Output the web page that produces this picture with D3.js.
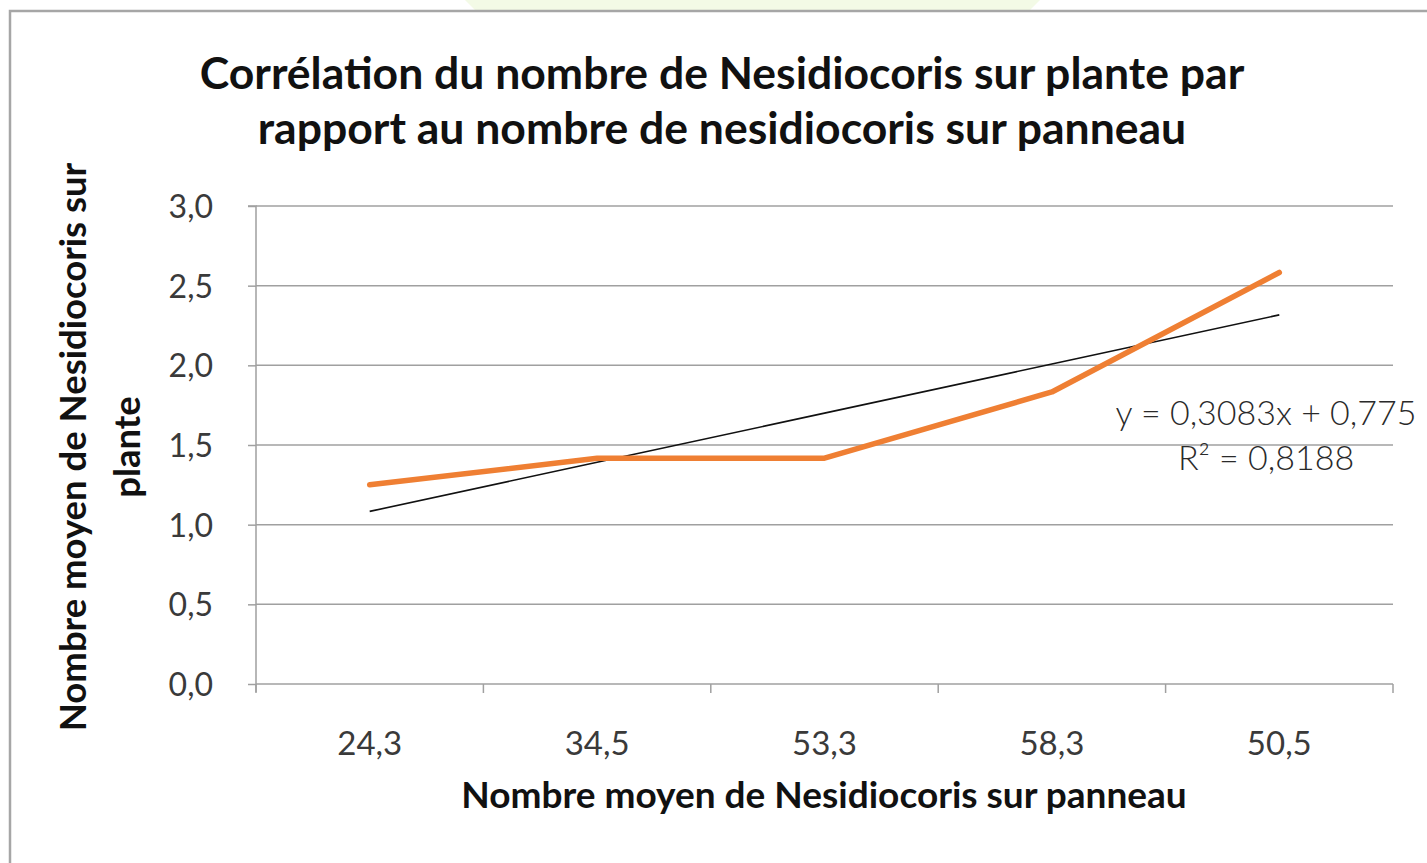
<!DOCTYPE html>
<html>
<head>
<meta charset="utf-8">
<script src="https://cdn.jsdelivr.net/npm/d3@7"></script>
<style>
  html, body { margin: 0; padding: 0; background: #fff; }
  svg { display: block; font-family: Lato, "Open Sans", sans-serif; }
</style>
</head>
<body>
<svg id="chart" width="1427" height="863"></svg>
<script>
// data
const categories = ["24,3", "34,5", "53,3", "58,3", "50,5"];
const plantValues = [1.25, 1.417, 1.417, 1.833, 2.583];
const yTicks = [0, 0.5, 1, 1.5, 2, 2.5, 3];
const trendSlope = 0.3083, trendIntercept = 0.775;
const titleLines = ["Corrélation du nombre de Nesidiocoris sur plante par", "rapport au nombre de nesidiocoris sur panneau"];
const yLabelLines = ["Nombre moyen de Nesidiocoris sur", "plante"];
const xLabel = "Nombre moyen de Nesidiocoris sur panneau";

const svg = d3.select("#chart");
const margin = { top: 206, right: 34, bottom: 179, left: 256 },
  width = 1427 - margin.left - margin.right,
  height = 863 - margin.top - margin.bottom;

// faint green shape at top and chart border
svg.append("path")
  .attr("d", "M465,0 L1040,0 L1030,10 L475,10 Z")
  .attr("fill", "#f3fae6");
svg.append("path")
  .attr("d", "M10,863 L10,11 L1427,11")
  .attr("fill", "none")
  .attr("stroke", "#a6a6a6")
  .attr("stroke-width", 2.5);

const x = d3.scaleBand().domain(categories).range([0, width]);
const y = d3.scaleLinear().domain([0, 3]).range([height, 0]);

const g = svg.append("g").attr("transform", `translate(${margin.left},${margin.top})`);

// gridlines
g.selectAll(".grid")
  .data(yTicks.filter(d => d > 0))
  .enter().append("line")
  .attr("x1", 0).attr("x2", width)
  .attr("y1", d => y(d)).attr("y2", d => y(d))
  .attr("stroke", "#a0a0a0").attr("stroke-width", 1.5);

// y axis
const yAxis = g.append("g")
  .call(d3.axisLeft(y).tickValues(yTicks).tickSize(8).tickPadding(35)
    .tickFormat(d => d3.format(".1f")(d).replace(".", ",")))
  .attr("font-family", null).attr("font-size", null);
yAxis.select(".domain").attr("stroke", "#a0a0a0").attr("stroke-width", 1.5)
  .attr("d", `M-8,0H0V${height + 8}`);
yAxis.selectAll(".tick line").attr("stroke", "#a0a0a0").attr("stroke-width", 1.5);
yAxis.selectAll(".tick text")
  .attr("fill", "#3a3a3a").style("font-size", "32px").style("font-weight", 400)
  .attr("dy", "0.36em");

// x axis: ticks on band edges
const xAxis = g.append("g").attr("transform", `translate(0,${height})`)
  .call(d3.axisBottom(x).tickSize(0).tickPadding(48))
  .attr("font-family", null).attr("font-size", null);
xAxis.select(".domain").attr("stroke", "#a0a0a0").attr("stroke-width", 1.5)
  .attr("d", `M0,0H${width}`);
xAxis.selectAll(".tick text")
  .attr("fill", "#3a3a3a").style("font-size", "33px").style("font-weight", 400);
const edges = categories.map(c => x(c)).concat([width]);
xAxis.selectAll(".edge")
  .data(edges)
  .enter().append("line")
  .attr("x1", d => d).attr("x2", d => d)
  .attr("y1", 0).attr("y2", 9)
  .attr("stroke", "#a0a0a0").attr("stroke-width", 1.5);

const cx = c => x(c) + x.bandwidth() / 2;

// trend line
const trend = d3.line()
  .x((d, i) => cx(categories[i]))
  .y((d, i) => y(trendSlope * (i + 1) + trendIntercept));
g.append("path")
  .datum(categories)
  .attr("d", trend)
  .attr("fill", "none")
  .attr("stroke", "#111")
  .attr("stroke-width", 1.6);

// series line
const line = d3.line()
  .x((d, i) => cx(categories[i]))
  .y(d => y(d));
g.append("path")
  .datum(plantValues)
  .attr("d", line)
  .attr("fill", "none")
  .attr("stroke", "#ef7f33")
  .attr("stroke-width", 5.5)
  .attr("stroke-linejoin", "round")
  .attr("stroke-linecap", "round");

// equation
const eq = svg.append("text")
  .attr("text-anchor", "middle")
  .attr("fill", "#2a2a2a")
  .style("font-size", "34px").style("font-weight", 300);
eq.append("tspan").attr("x", 1266).attr("y", 425)
  .text(`y = ${String(trendSlope).replace(".", ",")}x + ${String(trendIntercept).replace(".", ",")}`);
eq.append("tspan").attr("x", 1266).attr("y", 470).text("R² = 0,8188");

// title
svg.append("g").selectAll("text")
  .data(titleLines)
  .enter().append("text")
  .attr("x", 722)
  .attr("y", (d, i) => 89 + i * 55)
  .attr("text-anchor", "middle")
  .attr("fill", "#111")
  .style("font-size", "44.5px").style("font-weight", 700)
  .text(d => d);

// x label
svg.append("text")
  .attr("x", 824).attr("y", 808)
  .attr("text-anchor", "middle")
  .attr("fill", "#111")
  .style("font-size", "37px").style("font-weight", 700)
  .text(xLabel);

// y label
svg.append("g").attr("transform", "translate(0,447) rotate(-90)")
  .selectAll("text")
  .data(yLabelLines)
  .enter().append("text")
  .attr("x", 0)
  .attr("y", (d, i) => 86 + i * 54)
  .attr("text-anchor", "middle")
  .attr("fill", "#111")
  .style("font-size", "36.5px").style("font-weight", 700)
  .text(d => d);
</script>
</body>
</html>
